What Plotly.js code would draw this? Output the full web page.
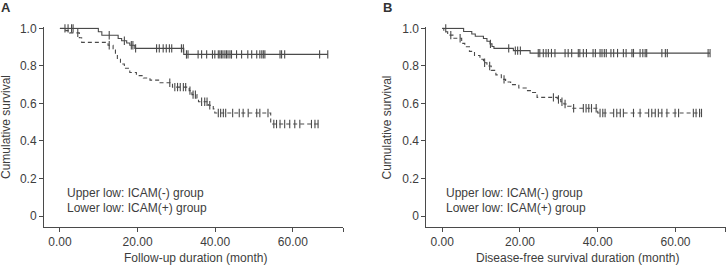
<!DOCTYPE html>
<html>
<head>
<meta charset="utf-8">
<script src="https://cdn.plot.ly/plotly-3.0.1.min.js"></script>
<style>
  html, body { margin: 0; padding: 0; background: #fff; }
  #chart { width: 726px; height: 268px; }
</style>
</head>
<body>
<div id="chart"></div>
<script>
// Panel A: overall follow-up. Kaplan-Meier step points (time in months, cumulative survival).
const aNegTime = [0, 9.9, 10.8, 15.0, 15.9, 17.2, 18.0, 19.3, 31.9, 69.0];
const aNegSurv = [1.0, 0.982, 0.963, 0.946, 0.934, 0.922, 0.910, 0.893, 0.861, 0.861];
const aNegCensor = [1.3, 2.1, 3.0, 3.4, 12.7, 16.6, 18.4, 18.8, 19.5, 24.9, 25.6, 26.6, 27.4, 28.2, 28.8,
  31.3, 31.8, 32.6, 33.0, 35.6, 36.5, 37.8, 39.3, 39.9, 40.8, 41.2, 41.6, 42.0, 42.5, 42.9, 43.3,
  43.8, 44.2, 45.5, 46.8, 48.4, 49.4, 50.7, 51.5, 52.0, 52.4, 52.8, 56.7, 57.1, 57.9, 66.9, 69.0];

const aPosTime = [0, 1.5, 2.5, 5.0, 5.6, 12.4, 13.7, 14.3, 14.8, 15.6, 16.6, 18.0, 19.7, 21.5, 23.2,
  25.8, 29.0, 33.3, 34.0, 35.3, 35.7, 38.2, 39.5, 39.9, 54.3, 66.9];
const aPosSurv = [1.0, 0.988, 0.976, 0.950, 0.925, 0.910, 0.885, 0.860, 0.835, 0.810, 0.787, 0.765,
  0.748, 0.735, 0.724, 0.710, 0.687, 0.668, 0.647, 0.628, 0.609, 0.590, 0.571, 0.549, 0.490, 0.490];
const aPosCensor = [4.6, 12.7, 28.3, 29.6, 30.3, 31.0, 31.8, 32.4, 33.5, 34.3, 34.9, 36.5, 37.3, 37.9,
  38.6, 40.8, 41.4, 42.1, 42.7, 44.5, 46.2, 47.2, 48.5, 50.7, 51.5, 53.6, 55.1, 55.8, 56.7, 57.9,
  59.2, 60.5, 61.8, 64.8, 65.7, 66.5];

// Panel B: disease-free survival.
const bNegTime = [0, 5.5, 7.6, 8.5, 10.6, 11.5, 12.3, 12.8, 13.3, 18.3, 22.6, 68.9];
const bNegSurv = [1.0, 0.983, 0.970, 0.958, 0.946, 0.931, 0.917, 0.903, 0.893, 0.881, 0.868, 0.868];
const bNegCensor = [0.9, 12.4, 17.1, 18.8, 19.4, 20.1, 24.7, 25.1, 26.0, 26.7, 27.3, 28.1, 29.0, 31.6,
  32.4, 33.3, 35.0, 35.4, 36.3, 37.1, 38.8, 39.4, 40.6, 41.1, 41.7, 42.2, 43.4, 44.1, 45.1, 46.6,
  47.3, 48.8, 49.2, 50.9, 51.6, 52.2, 52.6, 56.5, 57.4, 57.9, 68.4, 68.9];

const bPosTime = [0, 0.4, 1.4, 3.0, 5.0, 5.8, 7.0, 8.3, 9.7, 10.6, 11.5, 12.6, 13.8, 15.2, 16.3, 17.6,
  19.7, 21.6, 23.0, 24.4, 29.6, 30.5, 31.3, 32.3, 33.2, 40.0, 66.7];
const bPosSurv = [1.0, 0.982, 0.964, 0.947, 0.920, 0.902, 0.877, 0.855, 0.835, 0.817, 0.799, 0.776,
  0.752, 0.728, 0.714, 0.700, 0.682, 0.668, 0.658, 0.632, 0.621, 0.609, 0.597, 0.585, 0.574, 0.549, 0.549];
const bPosCensor = [2.2, 4.6, 10.9, 12.2, 15.9, 28.6, 29.9, 30.8, 31.6, 33.8, 36.3, 37.0, 37.7, 38.4,
  39.6, 40.6, 41.3, 41.9, 44.1, 44.9, 45.8, 46.6, 49.2, 50.9, 53.1, 53.9, 54.8, 55.6, 56.5, 57.8,
  59.9, 60.8, 64.6, 65.3, 66.2, 66.7];

const yTickVals = [0, 0.2, 0.4, 0.6, 0.8, 1.0];
const yTickText = ['0', '0.2', '0.4', '0.6', '0.8', '1.0'];
const xTickVals = [0, 20, 40, 60, 72.95];
const xTickText = ['0.00', '20.00', '40.00', '60.00', ''];

const FONT = 'Liberation Sans, Arial, Helvetica, sans-serif';
const TEXT = '#3d3d3d';
const INK = '#4a4a4a';

// Survival value of a step function at time t
function survAt(times, surv, t) {
  let s = surv[0];
  for (let i = 0; i < times.length; i++) {
    if (times[i] <= t + 1e-9) s = surv[i]; else break;
  }
  return s;
}

function curve(times, surv, dashed, xa, ya) {
  return {
    x: times, y: surv, xaxis: xa, yaxis: ya,
    type: 'scatter', mode: 'lines', cliponaxis: false, hoverinfo: 'skip',
    line: { shape: 'hv', color: INK, width: 1.1, dash: dashed ? '4px,3px' : 'solid' }
  };
}

function censors(times, surv, ct, xa, ya) {
  return {
    x: ct, y: ct.map(t => survAt(times, surv, t)), xaxis: xa, yaxis: ya,
    type: 'scatter', mode: 'markers', cliponaxis: false, hoverinfo: 'skip',
    marker: { symbol: 'line-ns-open', size: 6, color: INK, line: { color: INK, width: 1.1 } }
  };
}

const data = [
  curve(aNegTime, aNegSurv, false, 'x', 'y'),
  censors(aNegTime, aNegSurv, aNegCensor, 'x', 'y'),
  curve(aPosTime, aPosSurv, true, 'x', 'y'),
  censors(aPosTime, aPosSurv, aPosCensor, 'x', 'y'),
  curve(bNegTime, bNegSurv, false, 'x2', 'y2'),
  censors(bNegTime, bNegSurv, bNegCensor, 'x2', 'y2'),
  curve(bPosTime, bPosSurv, true, 'x2', 'y2'),
  censors(bPosTime, bPosSurv, bPosCensor, 'x2', 'y2')
];

const W = 726, H = 268;
const px = v => v / W;
const py = v => 1 - v / H;

function xAxis(domain, anchor) {
  return {
    domain: domain, anchor: anchor, range: [-4.1, 73.0],
    showgrid: false, zeroline: false, showline: true, linecolor: INK, linewidth: 1,
    ticks: 'outside', ticklen: 4, tickwidth: 1, tickcolor: INK,
    tickvals: xTickVals, ticktext: xTickText,
    tickfont: { family: FONT, size: 12, color: TEXT }
  };
}
function yAxis(anchor) {
  return {
    domain: [py(226.7), py(27.4)], anchor: anchor, range: [-0.057, 1.005],
    showgrid: false, zeroline: false, showline: true, linecolor: INK, linewidth: 1,
    ticks: 'outside', ticklen: 4, tickwidth: 1, tickcolor: INK,
    tickvals: yTickVals, ticktext: yTickText,
    tickfont: { family: FONT, size: 12, color: TEXT }
  };
}

function note(text, x, y, opts) {
  return Object.assign({
    text: text, x: x, y: y, xref: 'paper', yref: 'paper', showarrow: false,
    xanchor: 'left', yanchor: 'middle',
    font: { family: FONT, size: 12, color: TEXT }
  }, opts || {});
}

const annotations = [
  note('<b>A</b>', px(-1), py(7), { font: { family: FONT, size: 13, color: '#333' } }),
  note('<b>B</b>', px(381), py(7), { font: { family: FONT, size: 13, color: '#333' } }),
  note('Cumulative survival', px(5.5), py(127.5), { xanchor: 'center', textangle: -90 }),
  note('Cumulative survival', px(386), py(127.5), { xanchor: 'center', textangle: -90 }),
  note('Follow-up duration (month)', px(195), py(258.3), { xanchor: 'center' }),
  note('Disease-free survival duration (month)', px(577), py(258.3), { xanchor: 'center' }),
  note('Upper low: ICAM(-) group', px(64.5), py(193.3)),
  note('Lower low: ICAM(+) group', px(64.5), py(208.3)),
  note('Upper low: ICAM(-) group', px(443.5), py(193.3)),
  note('Lower low: ICAM(+) group', px(443.5), py(208.3))
];

const layout = {
  width: W, height: H,
  margin: { l: 0, r: 0, t: 0, b: 0, pad: 0 },
  paper_bgcolor: '#fff', plot_bgcolor: '#fff',
  showlegend: false,
  font: { family: FONT, size: 12, color: TEXT },
  xaxis: xAxis([px(44), px(343.3)], 'y'),
  yaxis: yAxis('x'),
  xaxis2: xAxis([px(426.3), 1], 'y2'),
  yaxis2: yAxis('x2'),
  annotations: annotations
};

Plotly.newPlot('chart', data, layout, { staticPlot: true, displayModeBar: false });
</script>
</body>
</html>
